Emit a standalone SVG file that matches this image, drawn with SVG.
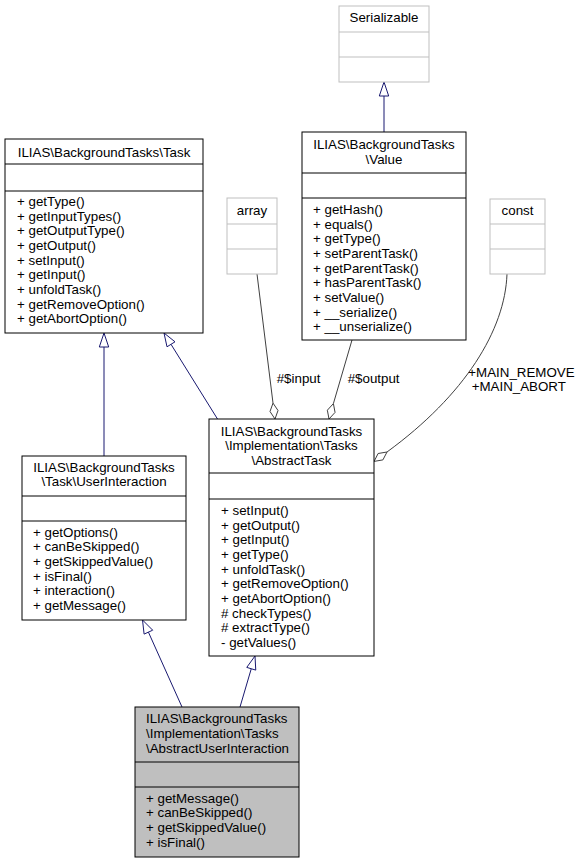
<svg xmlns="http://www.w3.org/2000/svg" width="580" height="863" viewBox="0 0 580 863">
<style>
text{font-family:"Liberation Sans",Arial,Helvetica,sans-serif;font-size:13.33px;fill:#000}
.c{text-anchor:middle}
.box{fill:#fff;stroke:#000;stroke-width:1}
.gbox{fill:#fff;stroke:#bfbfbf;stroke-width:1}
.sel{fill:#bfbfbf;stroke:#000;stroke-width:1}
.sep{stroke:#000;stroke-width:1}
.gsep{stroke:#bfbfbf;stroke-width:1}
.inh{fill:none;stroke:#191970;stroke-width:1}
.tri{fill:#fff;stroke:#191970;stroke-width:1}
.agg{fill:none;stroke:#404040;stroke-width:1}
.dia{fill:#fff;stroke:#404040;stroke-width:1}
</style>
<rect width="580" height="863" fill="#fff"/>
<g id="connectors">
<path class="inh" d="M384,132 L384,96"/>
<polygon class="tri" points="384,82 379.3,96 388.7,96"/>
<path class="inh" d="M104,456 L104,347"/>
<polygon class="tri" points="104,333 99.3,347 108.7,347"/>
<path class="inh" d="M217.5,419 L171,344.3"/>
<polygon class="tri" points="164,333 175,341.8 167,346.8"/>
<path class="inh" d="M182,707 L148.4,632.1"/>
<polygon class="tri" points="142.5,620 152.7,630.2 144.1,634.1"/>
<path class="inh" d="M240,707 L251.25,668.75"/>
<polygon class="tri" points="255,656 255.75,670.1 246.75,667.4"/>
<path class="agg" d="M257,274 L273,403.1"/>
<polygon class="dia" points="275,419 278,410.5 273,403.1 270,411.5"/>
<path class="agg" d="M352,340 L333.4,403.6"/>
<polygon class="dia" points="329,419 335.05,412.4 333.4,403.6 327.35,410.2"/>
<path class="agg" d="M507,274 C505,330 465,395 387,452"/>
<polygon class="dia" points="374.1,461.4 382.9,459.9 387,452 378.1,453.5"/>
<text x="276.7" y="382.7">#$input</text>
<text x="347.7" y="382.7">#$output</text>
<text x="468.3" y="376.7">+MAIN_REMOVE</text>
<text x="471.7" y="391">+MAIN_ABORT</text>
</g>
<g id="node-serializable">
<rect class="gbox" x="339" y="6" width="90" height="76"/>
<line class="gsep" x1="339" y1="32" x2="429" y2="32"/>
<line class="gsep" x1="339" y1="57" x2="429" y2="57"/>
<text class="c" x="384" y="21.7">Serializable</text>
</g>
<g id="node-task">
<rect class="box" x="5" y="139" width="198" height="194"/>
<line class="sep" x1="5" y1="164" x2="203" y2="164"/>
<line class="sep" x1="5" y1="191" x2="203" y2="191"/>
<text class="c" x="104" y="157">ILIAS\BackgroundTasks\Task</text>
<text x="17" y="206">+ getType()</text>
<text x="17" y="220.7">+ getInputTypes()</text>
<text x="17" y="235.3">+ getOutputType()</text>
<text x="17" y="250">+ getOutput()</text>
<text x="17" y="264.6">+ setInput()</text>
<text x="17" y="279.3">+ getInput()</text>
<text x="17" y="294">+ unfoldTask()</text>
<text x="17" y="308.6">+ getRemoveOption()</text>
<text x="17" y="323.3">+ getAbortOption()</text>
</g>
<g id="node-array">
<rect class="gbox" x="227" y="198" width="50" height="76"/>
<line class="gsep" x1="227" y1="224" x2="277" y2="224"/>
<line class="gsep" x1="227" y1="249" x2="277" y2="249"/>
<text class="c" x="252" y="215">array</text>
</g>
<g id="node-value">
<rect class="box" x="302" y="132" width="164" height="208"/>
<line class="sep" x1="302" y1="173" x2="466" y2="173"/>
<line class="sep" x1="302" y1="198" x2="466" y2="198"/>
<text class="c" x="384" y="149">ILIAS\BackgroundTasks</text>
<text class="c" x="384" y="163.7">\Value</text>
<text x="313" y="214">+ getHash()</text>
<text x="313" y="228.7">+ equals()</text>
<text x="313" y="243.3">+ getType()</text>
<text x="313" y="258">+ setParentTask()</text>
<text x="313" y="272.6">+ getParentTask()</text>
<text x="313" y="287.3">+ hasParentTask()</text>
<text x="313" y="302">+ setValue()</text>
<text x="313" y="316.6">+ __serialize()</text>
<text x="313" y="331.3">+ __unserialize()</text>
</g>
<g id="node-const">
<rect class="gbox" x="490" y="199" width="55" height="75"/>
<line class="gsep" x1="490" y1="224" x2="545" y2="224"/>
<line class="gsep" x1="490" y1="249" x2="545" y2="249"/>
<text class="c" x="517.5" y="215">const</text>
</g>
<g id="node-abstracttask">
<rect class="box" x="209" y="419" width="165" height="237"/>
<line class="sep" x1="209" y1="473" x2="374" y2="473"/>
<line class="sep" x1="209" y1="499" x2="374" y2="499"/>
<text class="c" x="291.5" y="435.7">ILIAS\BackgroundTasks</text>
<text class="c" x="291.5" y="450.3">\Implementation\Tasks</text>
<text class="c" x="291.5" y="465">\AbstractTask</text>
<text x="221" y="515">+ setInput()</text>
<text x="221" y="529.7">+ getOutput()</text>
<text x="221" y="544.3">+ getInput()</text>
<text x="221" y="559">+ getType()</text>
<text x="221" y="573.6">+ unfoldTask()</text>
<text x="221" y="588.3">+ getRemoveOption()</text>
<text x="221" y="603">+ getAbortOption()</text>
<text x="221" y="617.6"># checkTypes()</text>
<text x="221" y="632.3"># extractType()</text>
<text x="221" y="647">- getValues()</text>
</g>
<g id="node-userinteraction">
<rect class="box" x="22" y="456" width="164" height="164"/>
<line class="sep" x1="22" y1="496" x2="186" y2="496"/>
<line class="sep" x1="22" y1="521" x2="186" y2="521"/>
<text class="c" x="104" y="471.7">ILIAS\BackgroundTasks</text>
<text class="c" x="104" y="486.3">\Task\UserInteraction</text>
<text x="33" y="536.7">+ getOptions()</text>
<text x="33" y="551.3">+ canBeSkipped()</text>
<text x="33" y="566">+ getSkippedValue()</text>
<text x="33" y="580.7">+ isFinal()</text>
<text x="33" y="595.3">+ interaction()</text>
<text x="33" y="610">+ getMessage()</text>
</g>
<g id="node-abstractuserinteraction">
<rect class="sel" x="135" y="707" width="164" height="150"/>
<line class="sep" x1="135" y1="762" x2="299" y2="762"/>
<line class="sep" x1="135" y1="787" x2="299" y2="787"/>
<text x="146" y="723.3">ILIAS\BackgroundTasks</text>
<text x="146" y="738">\Implementation\Tasks</text>
<text x="146" y="752.6">\AbstractUserInteraction</text>
<text x="146" y="802.7">+ getMessage()</text>
<text x="146" y="817.3">+ canBeSkipped()</text>
<text x="146" y="832">+ getSkippedValue()</text>
<text x="146" y="846.7">+ isFinal()</text>
</g>
</svg>
